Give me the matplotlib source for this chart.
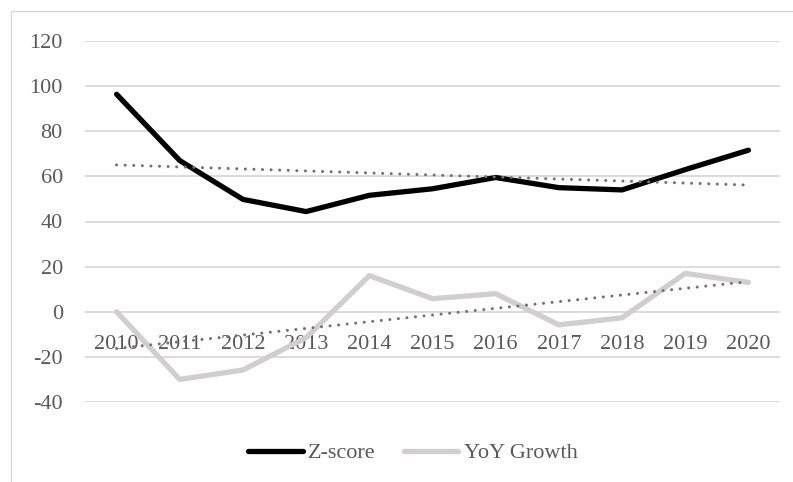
import matplotlib
matplotlib.use("Agg")
import matplotlib.pyplot as plt
from matplotlib.patches import Rectangle
import numpy as np

years = ["2010", "2011", "2012", "2013", "2014", "2015", "2016", "2017", "2018", "2019", "2020"]
z_score = [96.4, 67.0, 49.8, 44.4, 51.6, 54.5, 59.5, 55.0, 54.0, 63.0, 71.6]
yoy_growth = [0.0, -30.0, -25.8, -11.5, 16.0, 5.8, 8.0, -5.8, -2.7, 17.0, 13.0]
y_ticks = [-40, -20, 0, 20, 40, 60, 80, 100, 120]

TXT = "#595959"
GRID = "#d9d9d9"
plt.rcParams["font.family"] = ["Liberation Serif", "DejaVu Serif"]
plt.rcParams["axes.unicode_minus"] = False

W, H = 793, 482
fig = plt.figure(figsize=(W / 100, H / 100), dpi=100)
fig.patches.append(Rectangle((11 / W, -0.2), 1.5, 1.2 - 11 / H,
                             transform=fig.transFigure, fill=False,
                             edgecolor=GRID, linewidth=1.0))
ax = fig.add_axes([85 / W, 1 - 402 / H, (780 - 85) / W, (402 - 41) / H])

x = np.arange(len(years))
ax.set_xlim(-0.5, len(years) - 0.5)
ax.set_ylim(-40, 120)
ax.set_yticks(y_ticks)
ax.grid(axis="y", color=GRID, linewidth=1.3)
ax.set_axisbelow(True)
for s in ax.spines.values():
    s.set_visible(False)
ax.tick_params(axis="y", length=0, pad=16, labelsize=16, labelcolor=TXT)
ax.set_xticks([])

l1, = ax.plot(x, z_score, color="black", linewidth=3.8, solid_capstyle="round",
              solid_joinstyle="round", label="Z-score", zorder=3)
l2, = ax.plot(x, yoy_growth, color="#d0cece", linewidth=3.8, solid_capstyle="round",
              solid_joinstyle="round", label="YoY Growth", zorder=3)

for series in (z_score, yoy_growth):
    k, b = np.polyfit(x, series, 1)
    ax.plot(x, k * x + b, color="#767171", linewidth=2.2,
            linestyle=(0, (0.01, 2.8)), dash_capstyle="round", zorder=4)

for i, yr in enumerate(years):
    ax.annotate(yr, xy=(i, 0), xytext=(0, -26.5), textcoords="offset points",
                ha="center", va="baseline", fontsize=16, color=TXT, zorder=2)

leg = fig.legend(handles=[l1, l2], loc="center", bbox_to_anchor=(413 / W, 1 - 453 / H),
                 ncol=2, frameon=False, fontsize=16, handlelength=2.45,
                 handletextpad=0.25, columnspacing=1.25, borderpad=0)
for t in leg.get_texts():
    t.set_color(TXT)

fig.savefig("out.png", dpi=100)
